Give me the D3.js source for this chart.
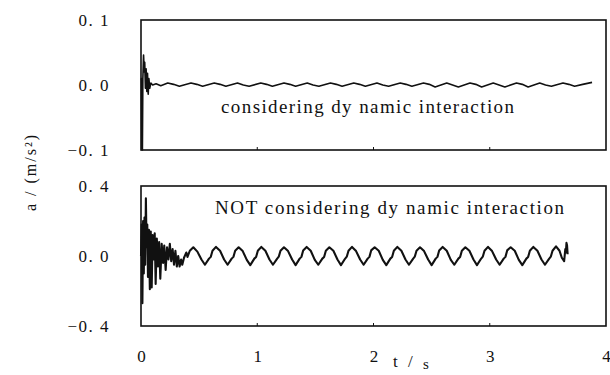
<!DOCTYPE html>
<html>
<head>
<meta charset="utf-8">
<script src="https://cdn.jsdelivr.net/npm/d3@7"></script>
<style>
  body { margin: 0; background: #fff; }
  svg text { font-family: "Liberation Serif", "Times New Roman", serif; fill: #111; }
</style>
</head>
<body>
<div id="chart"></div>
<script>
// time axis ticks (s)
const xTicks = [0, 1, 2, 3, 4];
const topTicks = [-0.1, 0, 0.1];
const bottomTicks = [-0.4, 0, 0.4];

// considering dynamic interaction: [t, a]
const topSeries = [
  [0.000, 0.008], [0.004, 0.010], [0.008, -0.100], [0.012, -0.100], [0.016, 0.010],
  [0.022, 0.046], [0.028, 0.020], [0.032, 0.035], [0.038, -0.005], [0.044, 0.025],
  [0.050, -0.010], [0.056, 0.018], [0.062, -0.014], [0.068, 0.010], [0.075, -0.005],
  [0.085, 0.003], [0.100, 0.000], [0.130, 0.002], [0.170, -0.001], [0.230, 0.003],
  [0.280, 0.001], [0.330, -0.002], [0.430, 0.003], [0.480, 0.001], [0.530, -0.002],
  [0.630, 0.003], [0.680, 0.001], [0.730, -0.002], [0.830, 0.003], [0.880, 0.000],
  [0.930, -0.002], [1.030, 0.003], [1.080, 0.001], [1.130, -0.002], [1.230, 0.003],
  [1.280, 0.001], [1.330, -0.002], [1.430, 0.003], [1.480, 0.000], [1.530, -0.002],
  [1.630, 0.003], [1.680, 0.001], [1.730, -0.002], [1.830, 0.003], [1.880, 0.001],
  [1.930, -0.002], [2.030, 0.003], [2.080, 0.000], [2.130, -0.002], [2.230, 0.003],
  [2.280, 0.001], [2.330, -0.002], [2.430, 0.003], [2.480, 0.001], [2.530, -0.003],
  [2.630, 0.003], [2.680, 0.000], [2.730, -0.003], [2.830, 0.003], [2.880, 0.001],
  [2.930, -0.003], [3.030, 0.003], [3.080, 0.000], [3.130, -0.003], [3.230, 0.003],
  [3.280, 0.001], [3.330, -0.003], [3.430, 0.003], [3.480, 0.000], [3.530, -0.002],
  [3.630, 0.003], [3.680, 0.001], [3.730, -0.002], [3.800, 0.001], [3.880, 0.004]
];

// NOT considering dynamic interaction: [t, a]
const bottomSeries = [
  [0.000, 0.000], [0.006, 0.180], [0.012, -0.270], [0.018, 0.200], [0.024, -0.100],
  [0.030, 0.220], [0.036, -0.050], [0.042, 0.330], [0.048, 0.050], [0.054, 0.180],
  [0.060, -0.120], [0.068, 0.150], [0.076, -0.190], [0.084, 0.140], [0.092, -0.180],
  [0.100, 0.120], [0.110, -0.020], [0.118, 0.130], [0.126, -0.160], [0.136, 0.100],
  [0.146, -0.060], [0.156, 0.080], [0.166, -0.130], [0.178, 0.070], [0.190, -0.040],
  [0.200, 0.060], [0.212, -0.080], [0.224, 0.050], [0.236, -0.020], [0.248, 0.070],
  [0.260, -0.030], [0.272, 0.040], [0.284, -0.050], [0.296, 0.030], [0.308, -0.060],
  [0.320, 0.000], [0.332, -0.060], [0.345, -0.020], [0.355, -0.050], [0.370, -0.010],
  [0.390, 0.020], [0.400, -0.005], [0.420, 0.030], [0.450, 0.050], [0.485, 0.025],
  [0.520, -0.020], [0.550, -0.050],
  [0.585, -0.015], [0.600, -0.005], [0.615, 0.030], [0.645, 0.052], [0.680, 0.030], [0.715, -0.020], [0.745, -0.050],
  [0.780, -0.015], [0.795, -0.005], [0.810, 0.030], [0.840, 0.050], [0.875, 0.028], [0.910, -0.022], [0.940, -0.052],
  [0.975, -0.015], [0.990, -0.006], [1.005, 0.030], [1.035, 0.052], [1.070, 0.030], [1.105, -0.020], [1.135, -0.050],
  [1.170, -0.016], [1.185, -0.004], [1.200, 0.030], [1.230, 0.050], [1.265, 0.028], [1.300, -0.020], [1.330, -0.052],
  [1.365, -0.015], [1.380, -0.005], [1.395, 0.032], [1.425, 0.052], [1.460, 0.030], [1.495, -0.022], [1.525, -0.050],
  [1.560, -0.015], [1.575, -0.006], [1.590, 0.030], [1.620, 0.050], [1.655, 0.030], [1.690, -0.020], [1.720, -0.052],
  [1.755, -0.016], [1.770, -0.004], [1.785, 0.030], [1.815, 0.052], [1.850, 0.028], [1.885, -0.020], [1.915, -0.050],
  [1.950, -0.015], [1.965, -0.005], [1.980, 0.032], [2.010, 0.050], [2.045, 0.030], [2.080, -0.022], [2.110, -0.052],
  [2.145, -0.015], [2.160, -0.006], [2.175, 0.030], [2.205, 0.052], [2.240, 0.030], [2.275, -0.020], [2.305, -0.050],
  [2.340, -0.016], [2.355, -0.004], [2.370, 0.030], [2.400, 0.050], [2.435, 0.028], [2.470, -0.020], [2.500, -0.052],
  [2.535, -0.015], [2.550, -0.005], [2.565, 0.032], [2.595, 0.052], [2.630, 0.030], [2.665, -0.022], [2.695, -0.050],
  [2.730, -0.015], [2.745, -0.006], [2.760, 0.030], [2.790, 0.050], [2.825, 0.030], [2.860, -0.020], [2.890, -0.052],
  [2.925, -0.016], [2.940, -0.004], [2.955, 0.030], [2.985, 0.052], [3.020, 0.028], [3.055, -0.020], [3.085, -0.050],
  [3.120, -0.015], [3.135, -0.005], [3.150, 0.032], [3.180, 0.050], [3.215, 0.030], [3.250, -0.022], [3.280, -0.052],
  [3.315, -0.015], [3.330, -0.006], [3.345, 0.030], [3.375, 0.052], [3.410, 0.030], [3.445, -0.020], [3.475, -0.050],
  [3.510, -0.016], [3.525, -0.004], [3.540, 0.030], [3.570, 0.055], [3.600, 0.030], [3.620, -0.010], [3.640, -0.030],
  [3.650, 0.040], [3.655, 0.020], [3.660, 0.075], [3.665, 0.060], [3.670, 0.010]
];

const annTop = "considering dy namic interaction";
const annBottom = "NOT considering dy namic interaction";

const w = 610, h = 375;
const svg = d3.select("#chart").append("svg")
  .attr("width", w)
  .attr("height", h);

const x = d3.scaleLinear().domain([0, 4]).range([141, 606]);
const yTop = d3.scaleLinear().domain([-0.1, 0.1]).range([150, 20]);
const yBot = d3.scaleLinear().domain([-0.4, 0.4]).range([326, 186]);

// tick labels look like "0. 1" in the original
const fmt = (d) => (d < 0 ? "\u22120. " : "0. ") + String(Math.round(Math.abs(d) * 10));

function panel(y, ticks, data, strokeW, label) {
  const g = svg.append("g");

  g.append("rect")
    .attr("x", x(0))
    .attr("y", y.range()[1])
    .attr("width", x(4) - x(0))
    .attr("height", y.range()[0] - y.range()[1])
    .attr("fill", "none")
    .attr("stroke", "#111")
    .attr("stroke-width", 1.6);

  const yAxis = d3.axisLeft(y).tickValues(ticks).tickSize(0).tickPadding(31).tickFormat(fmt);
  const ya = g.append("g")
    .attr("transform", "translate(" + x(0) + ",0)")
    .call(yAxis);
  ya.select(".domain").remove();
  ya.selectAll("text")
    .style("font-size", "17px")
    .style("letter-spacing", "1.5px")
    .attr("font-family", null);

  // small inward ticks on the bottom edge
  g.selectAll(".bt")
    .data([1, 2, 3])
    .enter().append("line")
    .attr("x1", (d) => x(d)).attr("x2", (d) => x(d))
    .attr("y1", y.range()[0]).attr("y2", y.range()[0] - 3)
    .attr("stroke", "#111");

  const line = d3.line()
    .x((d) => x(d[0]))
    .y((d) => y(d[1]));

  g.append("path")
    .datum(data)
    .attr("d", line)
    .attr("fill", "none")
    .attr("stroke", "#111")
    .attr("stroke-width", strokeW)
    .attr("stroke-linejoin", "round");

  g.append("text")
    .attr("x", label.x)
    .attr("y", label.y)
    .style("font-size", "19px")
    .style("letter-spacing", label.ls + "px")
    .text(label.text);
}

panel(yTop, topTicks, topSeries, 1.6, { x: 221, y: 113, ls: 1.4, text: annTop });
panel(yBot, bottomTicks, bottomSeries, 2.1, { x: 215, y: 214, ls: 1.6, text: annBottom });

// x axis labels under the bottom panel
const xAxis = d3.axisBottom(x).tickValues(xTicks).tickSize(0).tickPadding(24).tickFormat(d3.format("d"));
const xa = svg.append("g")
  .attr("transform", "translate(0," + yBot.range()[0] + ")")
  .call(xAxis);
xa.select(".domain").remove();
xa.selectAll("text").style("font-size", "17px").attr("font-family", null);

// axis titles
svg.append("text")
  .attr("transform", "translate(36,172) rotate(-90)")
  .attr("text-anchor", "middle")
  .style("font-size", "16px")
  .style("letter-spacing", "2px")
  .text("a / (m/s²)");

const tl = svg.append("text")
  .attr("x", 393)
  .attr("y", 367)
  .style("font-size", "17px")
  .style("letter-spacing", "3px");
tl.append("tspan").text("t / ");
tl.append("tspan").attr("dy", 2).style("font-size", "15px").text("s");
</script>
</body>
</html>
